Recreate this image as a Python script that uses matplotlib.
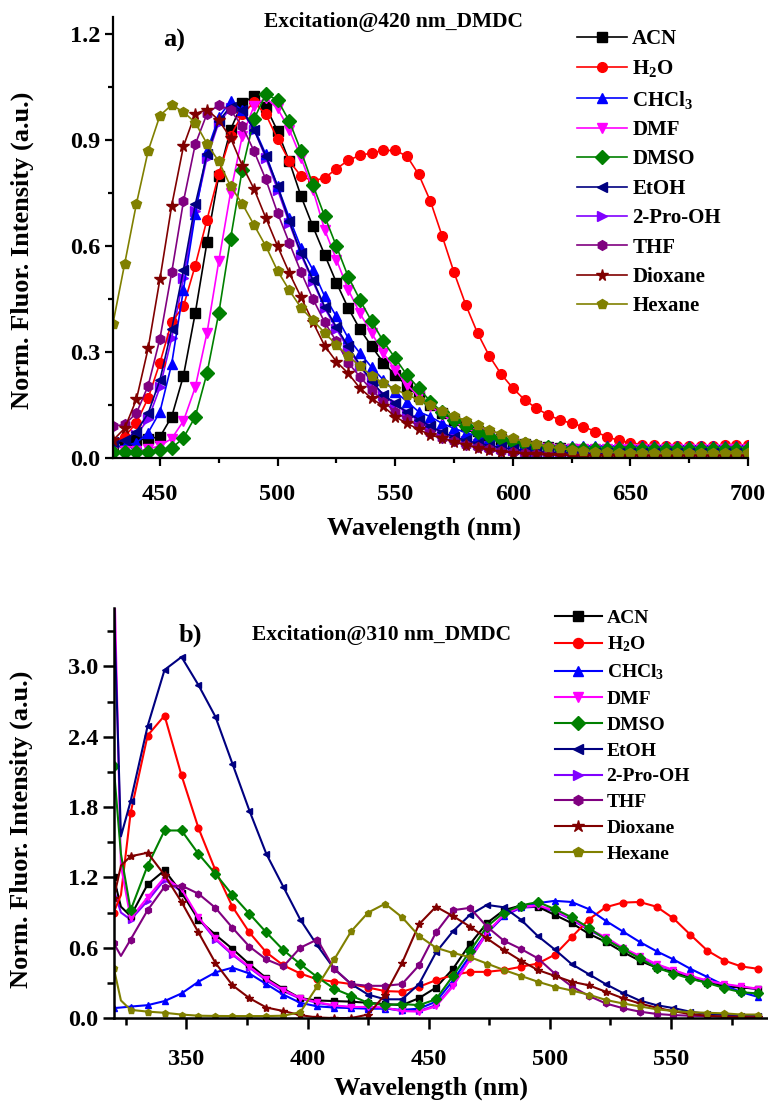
import numpy as np
import matplotlib
matplotlib.use("Agg")
import matplotlib.pyplot as plt
from matplotlib.ticker import MultipleLocator, FormatStrFormatter

plt.rcParams['font.family'] = ['Liberation Serif', 'DejaVu Serif']
plt.rcParams['font.weight'] = 'bold'
plt.rcParams['mathtext.fontset'] = 'custom'
plt.rcParams['mathtext.bf'] = 'Liberation Serif:bold'
plt.rcParams['mathtext.rm'] = 'Liberation Serif:bold'
plt.rcParams['mathtext.default'] = 'bf'

# ---------------- data ----------------
solvents = ['ACN', 'H$_2$O', 'CHCl$_3$', 'DMF', 'DMSO', 'EtOH', '2-Pro-OH', 'THF', 'Dioxane', 'Hexane']
colors = ['black', '#ff0000', '#0000ff', '#ff00ff', '#008000', '#000080', '#8000ff', '#800080', '#800000', '#808000']
markers = ['s', 'o', '^', 'v', 'D', '<', '>', 'h', '*', 'p']

# panel a) excitation 420 nm, 430..700 nm every 5 nm
wl_a = np.arange(430, 701, 5)

acn_a = [0.04, 0.045, 0.05, 0.055, 0.06, 0.117, 0.233, 0.41, 0.611, 0.80,
         0.93, 1.005, 1.025, 0.995, 0.926, 0.84, 0.741, 0.656, 0.576, 0.497,
         0.425, 0.365, 0.316, 0.27, 0.235, 0.205, 0.175, 0.15, 0.128, 0.108,
         0.09, 0.076, 0.064, 0.054, 0.046, 0.039, 0.034, 0.03, 0.027, 0.025,
         0.023, 0.022, 0.021, 0.02, 0.02, 0.02, 0.02, 0.02, 0.02, 0.02,
         0.02, 0.02, 0.02, 0.02, 0.02]
h2o_a = [0.045, 0.06, 0.1, 0.17, 0.27, 0.385, 0.43, 0.545, 0.675, 0.803,
         0.912, 0.973, 1.008, 0.973, 0.904, 0.841, 0.798, 0.785, 0.793, 0.819,
         0.843, 0.857, 0.864, 0.871, 0.871, 0.855, 0.803, 0.727, 0.628, 0.526,
         0.434, 0.354, 0.289, 0.238, 0.198, 0.165, 0.141, 0.122, 0.108, 0.098,
         0.089, 0.075, 0.06, 0.05, 0.043, 0.038, 0.036, 0.035, 0.035, 0.035,
         0.035, 0.035, 0.036, 0.036, 0.037]
chcl3_a = [0.03, 0.035, 0.043, 0.072, 0.131, 0.267, 0.477, 0.69, 0.869, 0.965,
           1.01, 0.985, 0.935, 0.86, 0.77, 0.68, 0.595, 0.533, 0.458, 0.401,
           0.34, 0.297, 0.257, 0.221, 0.188, 0.16, 0.131, 0.117, 0.098, 0.084,
           0.072, 0.062, 0.053, 0.046, 0.042, 0.039, 0.037, 0.035, 0.035, 0.034,
           0.034, 0.034, 0.034, 0.034, 0.034, 0.034, 0.034, 0.034, 0.034, 0.034,
           0.034, 0.034, 0.034, 0.034, 0.034]
dmf_a = [0.02, 0.02, 0.02, 0.025, 0.035, 0.055, 0.105, 0.2, 0.354, 0.557,
         0.751, 0.912, 0.997, 1.02, 0.99, 0.93, 0.85, 0.76, 0.647, 0.562,
         0.477, 0.41, 0.354, 0.297, 0.25, 0.207, 0.175, 0.147, 0.122, 0.102,
         0.085, 0.071, 0.06, 0.05, 0.042, 0.036, 0.031, 0.028, 0.026, 0.025,
         0.025, 0.025, 0.025, 0.025, 0.025, 0.025, 0.025, 0.025, 0.025, 0.025,
         0.025, 0.025, 0.025, 0.025, 0.025]
dmso_a = [0.018, 0.018, 0.018, 0.018, 0.022, 0.028, 0.057, 0.117, 0.24, 0.41,
          0.62, 0.817, 0.96, 1.03, 1.014, 0.954, 0.869, 0.774, 0.685, 0.6,
          0.514, 0.448, 0.387, 0.33, 0.283, 0.235, 0.198, 0.16, 0.13, 0.108,
          0.09, 0.075, 0.063, 0.053, 0.045, 0.039, 0.034, 0.03, 0.028, 0.026,
          0.025, 0.025, 0.025, 0.025, 0.025, 0.025, 0.025, 0.025, 0.025, 0.025,
          0.025, 0.025, 0.025, 0.025, 0.025]
etoh_a = [0.045, 0.05, 0.075, 0.127, 0.221, 0.365, 0.533, 0.718, 0.86, 0.955,
          0.995, 0.985, 0.93, 0.855, 0.77, 0.67, 0.58, 0.505, 0.429, 0.371,
          0.316, 0.264, 0.217, 0.179, 0.155, 0.129, 0.109, 0.09, 0.073, 0.06,
          0.05, 0.042, 0.035, 0.03, 0.025, 0.021, 0.018, 0.016, 0.015, 0.014,
          0.013, 0.013, 0.013, 0.013, 0.013, 0.013, 0.013, 0.013, 0.013, 0.013,
          0.013, 0.013, 0.013, 0.013, 0.013]
prooh_a = [0.04, 0.045, 0.065, 0.11, 0.2, 0.34, 0.51, 0.7, 0.85, 0.95,
           0.99, 0.98, 0.93, 0.85, 0.76, 0.665, 0.575, 0.5, 0.425, 0.365,
           0.31, 0.26, 0.215, 0.178, 0.152, 0.127, 0.107, 0.088, 0.072, 0.059,
           0.049, 0.041, 0.034, 0.029, 0.024, 0.02, 0.017, 0.015, 0.014, 0.013,
           0.012, 0.012, 0.012, 0.012, 0.012, 0.012, 0.012, 0.012, 0.012, 0.012,
           0.012, 0.012, 0.012, 0.012, 0.012]
thf_a = [0.09, 0.095, 0.127, 0.205, 0.338, 0.526, 0.727, 0.888, 0.975, 1.0,
         0.985, 0.94, 0.869, 0.789, 0.694, 0.609, 0.526, 0.451, 0.385, 0.33,
         0.27, 0.23, 0.193, 0.16, 0.131, 0.11, 0.09, 0.072, 0.058, 0.047,
         0.038, 0.031, 0.025, 0.02, 0.016, 0.013, 0.011, 0.01, 0.009, 0.008,
         0.008, 0.008, 0.008, 0.008, 0.008, 0.008, 0.008, 0.008, 0.008, 0.008,
         0.008, 0.008, 0.008, 0.008, 0.008]
diox_a = [0.05, 0.084, 0.166, 0.311, 0.507, 0.715, 0.883, 0.975, 0.987, 0.957,
          0.907, 0.828, 0.762, 0.68, 0.60, 0.524, 0.455, 0.385, 0.318, 0.273,
          0.24, 0.198, 0.169, 0.146, 0.117, 0.098, 0.081, 0.065, 0.056, 0.046,
          0.037, 0.029, 0.023, 0.018, 0.015, 0.012, 0.01, 0.009, 0.008, 0.007,
          0.006, 0.006, 0.006, 0.006, 0.006, 0.006, 0.006, 0.006, 0.006, 0.006,
          0.006, 0.006, 0.006, 0.006, 0.006]
hex_a = [0.38, 0.55, 0.72, 0.87, 0.97, 1.0, 0.98, 0.95, 0.89, 0.84,
         0.77, 0.72, 0.66, 0.60, 0.53, 0.475, 0.425, 0.39, 0.355, 0.32,
         0.29, 0.26, 0.233, 0.212, 0.195, 0.179, 0.165, 0.15, 0.134, 0.119,
         0.106, 0.094, 0.079, 0.068, 0.056, 0.046, 0.039, 0.032, 0.027, 0.023,
         0.02, 0.018, 0.016, 0.015, 0.014, 0.013, 0.013, 0.013, 0.013, 0.013,
         0.013, 0.013, 0.013, 0.013, 0.013]

# panel b) excitation 310 nm
wl_b = [320, 323] + list(range(327, 587, 7))

acn_b = [1.2, 0.95, 0.87, 1.14, 1.26, 1.07, 0.84, 0.71, 0.59, 0.46,
         0.34, 0.25, 0.17, 0.15, 0.145, 0.14, 0.13, 0.12, 0.11, 0.17,
         0.26, 0.42, 0.63, 0.81, 0.92, 0.96, 0.95, 0.88, 0.81, 0.72,
         0.65, 0.565, 0.49, 0.43, 0.39, 0.34, 0.30, 0.27, 0.26, 0.25]
h2o_b = [0.9, 1.05, 1.75, 2.41, 2.58, 2.07, 1.62, 1.26, 0.95, 0.73,
         0.56, 0.45, 0.38, 0.33, 0.31, 0.29, 0.26, 0.23, 0.225, 0.267,
         0.323, 0.366, 0.394, 0.394, 0.41, 0.437, 0.465, 0.54, 0.69, 0.84,
         0.945, 0.985, 0.99, 0.95, 0.85, 0.71, 0.575, 0.49, 0.44, 0.42]
chcl3_b = [0.085, 0.09, 0.098, 0.11, 0.145, 0.21, 0.31, 0.39, 0.43, 0.38,
           0.29, 0.2, 0.13, 0.1, 0.09, 0.085, 0.08, 0.08, 0.07, 0.08,
           0.14, 0.32, 0.53, 0.73, 0.87, 0.95, 0.98, 1.0, 0.99, 0.93,
           0.83, 0.74, 0.65, 0.57, 0.5, 0.42, 0.35, 0.28, 0.22, 0.18]
dmf_b = [4.0, 1.3, 0.85, 1.03, 1.2, 1.1, 0.86, 0.68, 0.55, 0.437,
         0.33, 0.24, 0.17, 0.135, 0.108, 0.095, 0.095, 0.09, 0.06, 0.055,
         0.1, 0.27, 0.5, 0.73, 0.88, 0.95, 0.96, 0.92, 0.85, 0.76,
         0.69, 0.60, 0.53, 0.46, 0.41, 0.36, 0.32, 0.29, 0.27, 0.25]
dmso_b = [2.15, 1.4, 0.92, 1.30, 1.60, 1.60, 1.40, 1.23, 1.05, 0.89,
          0.73, 0.58, 0.46, 0.35, 0.25, 0.19, 0.13, 0.11, 0.12, 0.11,
          0.16, 0.36, 0.57, 0.78, 0.90, 0.96, 0.99, 0.93, 0.86, 0.77,
          0.67, 0.59, 0.51, 0.43, 0.38, 0.335, 0.3, 0.255, 0.22, 0.21]
etoh_b = [3.6, 1.55, 1.85, 2.49, 2.97, 3.08, 2.84, 2.57, 2.17, 1.77,
          1.40, 1.12, 0.84, 0.62, 0.42, 0.29, 0.2, 0.16, 0.16, 0.29,
          0.56, 0.74, 0.88, 0.965, 0.945, 0.84, 0.70, 0.585, 0.46, 0.375,
          0.29, 0.215, 0.15, 0.11, 0.085, 0.054, 0.034, 0.026, 0.02, 0.016]
prooh_b = [1.1, 0.9, 0.84, 1.0, 1.18, 1.08, 0.85, 0.67, 0.54, 0.43,
           0.32, 0.23, 0.165, 0.13, 0.105, 0.092, 0.09, 0.085, 0.06, 0.06,
           0.11, 0.28, 0.5, 0.72, 0.87, 0.94, 0.95, 0.91, 0.84, 0.75,
           0.68, 0.59, 0.52, 0.455, 0.405, 0.355, 0.315, 0.285, 0.265, 0.245]
thf_b = [0.64, 0.53, 0.67, 0.92, 1.12, 1.13, 1.06, 0.94, 0.77, 0.61,
         0.5, 0.44, 0.6, 0.67, 0.42, 0.29, 0.275, 0.275, 0.29, 0.45,
         0.73, 0.92, 0.94, 0.78, 0.66, 0.59, 0.51, 0.38, 0.27, 0.19,
         0.125, 0.085, 0.055, 0.035, 0.025, 0.02, 0.015, 0.012, 0.01, 0.01]
diox_b = [1.02, 1.3, 1.38, 1.41, 1.22, 0.99, 0.73, 0.47, 0.28, 0.17,
          0.09, 0.06, 0.025, 0.005, 0.0, 0.0, 0.03, 0.2, 0.47, 0.8,
          0.95, 0.87, 0.78, 0.68, 0.58, 0.49, 0.41, 0.36, 0.31, 0.28,
          0.225, 0.17, 0.125, 0.088, 0.058, 0.034, 0.02, 0.012, 0.008, 0.005]
hex_b = [0.43, 0.15, 0.07, 0.055, 0.045, 0.03, 0.02, 0.018, 0.017, 0.017,
         0.017, 0.02, 0.05, 0.27, 0.5, 0.74, 0.9, 0.975, 0.86, 0.7,
         0.6, 0.555, 0.52, 0.465, 0.41, 0.36, 0.31, 0.267, 0.235, 0.2,
         0.155, 0.125, 0.1, 0.075, 0.06, 0.05, 0.045, 0.04, 0.03, 0.03]

series_a = [acn_a, h2o_a, chcl3_a, dmf_a, dmso_a, etoh_a, prooh_a, thf_a, diox_a, hex_a]
series_b = [acn_b, h2o_b, chcl3_b, dmf_b, dmso_b, etoh_b, prooh_b, thf_b, diox_b, hex_b]

# ---------------- figure ----------------
fig = plt.figure(figsize=(7.68, 11.09), dpi=100)
ax1 = fig.add_axes([0.147, 0.587, 0.827, 0.398])
ax2 = fig.add_axes([0.148, 0.082, 0.852, 0.370])


def style_axis(ax, majlen, minlen, xpad, lw):
    for s in ['top', 'right']:
        ax.spines[s].set_visible(False)
    for s in ['left', 'bottom']:
        ax.spines[s].set_linewidth(lw)
    ax.tick_params(which='major', direction='out', length=majlen, width=lw, labelsize=17.5)
    ax.tick_params(which='minor', direction='out', length=minlen, width=lw)
    ax.tick_params(axis='x', which='major', pad=xpad)
    ax.tick_params(axis='y', which='major', pad=3)


for i, y in enumerate(series_a):
    ax1.plot(wl_a, y, color=colors[i], marker=markers[i], ms=7 if markers[i] != '*' else 8.5,
             lw=1.2, label=solvents[i], zorder=1.5 if i == 6 else 2 + i * 0.01)
ax1.set_xlim(430, 700)
ax1.set_ylim(0, 1.25)
ax1.xaxis.set_major_locator(MultipleLocator(50))
ax1.xaxis.set_minor_locator(MultipleLocator(25))
ax1.yaxis.set_major_locator(MultipleLocator(0.3))
ax1.yaxis.set_minor_locator(MultipleLocator(0.15))
ax1.yaxis.set_major_formatter(FormatStrFormatter('%.1f'))
style_axis(ax1, 6, 3.5, 13, 1.6)
ax1.set_xlabel('Wavelength (nm)', fontsize=19, fontweight='bold')
ax1.set_ylabel('Norm. Fluor. Intensity (a.u.)', fontsize=19, fontweight='bold')
ax1.xaxis.set_label_coords(0.49, -0.133)
ax1.yaxis.set_label_coords(-0.125, 0.47)
ax1.legend(loc='upper left', bbox_to_anchor=(577 / 768, 1 - 29 / 1109), bbox_transform=fig.transFigure,
           frameon=False, borderpad=0, borderaxespad=0, handlelength=2.4, handletextpad=0.25,
           labelspacing=0.45, fontsize=15, numpoints=1)
fig.text(394 / 768, 1 - 22 / 1109, 'Excitation@420 nm_DMDC', ha='center', va='center', fontsize=15.5)
fig.text(174 / 768, 1 - 40 / 1109, 'a)', ha='center', va='center', fontsize=19)

for i, y in enumerate(series_b):
    ax2.plot(wl_b, y, color=colors[i], marker=markers[i], ms=4.8 if markers[i] != '*' else 6,
             lw=1.5, label=solvents[i], markevery=[0] + list(range(2, len(wl_b))),
             zorder=1.5 if i == 6 else 2 + i * 0.01)
ax2.set_xlim(320, 590)
ax2.set_ylim(0, 3.5)
ax2.xaxis.set_major_locator(MultipleLocator(50))
ax2.xaxis.set_minor_locator(MultipleLocator(25))
ax2.yaxis.set_major_locator(MultipleLocator(0.6))
ax2.yaxis.set_minor_locator(MultipleLocator(0.3))
ax2.yaxis.set_major_formatter(FormatStrFormatter('%.1f'))
style_axis(ax2, 8, 5, 14, 1.8)
ax2.set_xlabel('Wavelength (nm)', fontsize=19, fontweight='bold')
ax2.set_ylabel('Norm. Fluor. Intensity (a.u.)', fontsize=19, fontweight='bold')
ax2.xaxis.set_label_coords(0.485, -0.143)
ax2.yaxis.set_label_coords(-0.124, 0.46)
ax2.legend(loc='upper left', bbox_to_anchor=(555 / 768, 1 - 609 / 1109), bbox_transform=fig.transFigure,
           frameon=False, borderpad=0, borderaxespad=0, handlelength=2.4, handletextpad=0.25,
           labelspacing=0.42, fontsize=14, numpoints=1, markerscale=1.5)
fig.text(382 / 768, 1 - 635 / 1109, 'Excitation@310 nm_DMDC', ha='center', va='center', fontsize=15.5)
fig.text(190 / 768, 1 - 635 / 1109, 'b)', ha='center', va='center', fontsize=19)

fig.savefig('out.png', dpi=100)
